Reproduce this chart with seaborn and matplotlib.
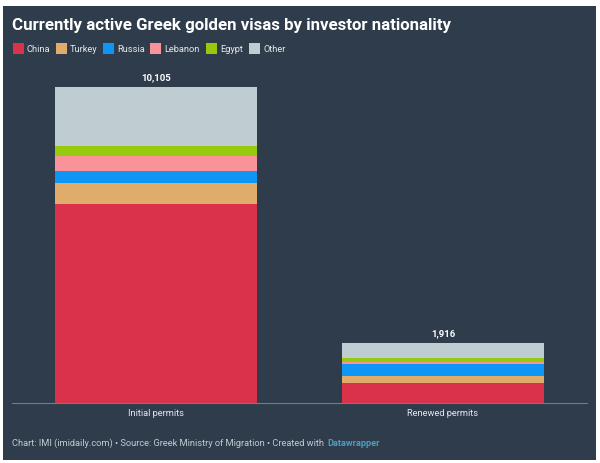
import pandas as pd
import seaborn as sns
import matplotlib.pyplot as plt
from matplotlib.patches import Rectangle

# Du lieu doc tu hinh goc
permits = ["Initial permits", "Renewed permits"]
totals = [10105, 1916]
china = [6364, 652]
turkey = [672, 213]
russia = [384, 375]
lebanon = [480, 64]
egypt = [304, 129]
other = [1901, 483]

nationalities = ["China", "Turkey", "Russia", "Lebanon", "Egypt", "Other"]
colors = ["#d9324a", "#e0ac6c", "#0f96f5", "#f9939a", "#97c90c", "#bfccd1"]
values = [china, turkey, russia, lebanon, egypt, other]

W, H = 600, 463
BG = "#2f3c4b"
TXT = "#e6e9ec"

sns.set_theme(style="white")
plt.rcParams["font.family"] = ["Roboto", "DejaVu Sans"]

fig = plt.figure(figsize=(W / 100, H / 100), dpi=100, facecolor="white")
# nen toi phia sau bieu do
fig.add_artist(Rectangle((3 / W, 1 - 460 / H), 593 / W, 454.5 / H, transform=fig.transFigure,
                         facecolor=BG, edgecolor="none", zorder=-1))

ax = fig.add_axes([12 / W, 1 - 403 / H, 575 / W, 316 / H])
ax.patch.set_alpha(0)

bottom = [0, 0]
for name, vals, col in zip(nationalities, values, colors):
    df = pd.DataFrame({"permit": permits, "value": vals})
    sns.barplot(data=df, x="permit", y="value", bottom=bottom, color=col, width=0.703,
                saturation=1, linewidth=0, errorbar=None, ax=ax)
    bottom = [b + v for b, v in zip(bottom, vals)]

ax.set_xlim(-0.502, 1.502)
ax.set_ylim(0, 10105)
ax.set_xlabel("")
ax.set_ylabel("")
ax.set_yticks([])
sns.despine(ax=ax, left=True, right=True, top=True)
ax.spines["bottom"].set_color("#6f7d8a")
ax.spines["bottom"].set_linewidth(0.8)
ax.tick_params(axis="x", length=0, pad=4, labelsize=6.7, labelcolor=TXT)

for i, t in enumerate(totals):
    ax.annotate(f"{t:,}", (i, t), xytext=(0, 3.5), textcoords="offset points", ha="center", va="bottom",
                color="white", fontsize=6.8, fontweight="bold", annotation_clip=False)

# tieu de
fig.text(12.5 / W, 1 - 25.5 / H, "Currently active Greek golden visas by investor nationality",
         color="white", fontsize=12.15, fontweight="bold", va="center", ha="left")

# chu giai
legend_x = [12.5, 56, 103, 150, 206, 249]
for x, name, col in zip(legend_x, nationalities, colors):
    fig.add_artist(Rectangle((x / W, 1 - 54.3 / H), 11 / W, 11 / H, transform=fig.transFigure,
                             facecolor=col, edgecolor="none"))
    fig.text((x + 14) / W, 1 - 49 / H, name, color=TXT, fontsize=6.7, va="center", ha="left")

# chan trang
fig.text(12.5 / W, 1 - 443 / H, "Chart: IMI (imidaily.com) • Source: Greek Ministry of Migration • Created with",
         color="#c3cad1", fontsize=6.7, va="center", ha="left")
fig.text(327 / W, 1 - 443 / H, "Datawrapper", color="#4f9cc0", fontsize=6.6, fontweight="bold", va="center", ha="left")

fig.savefig("out.png", dpi=100, facecolor="white")
